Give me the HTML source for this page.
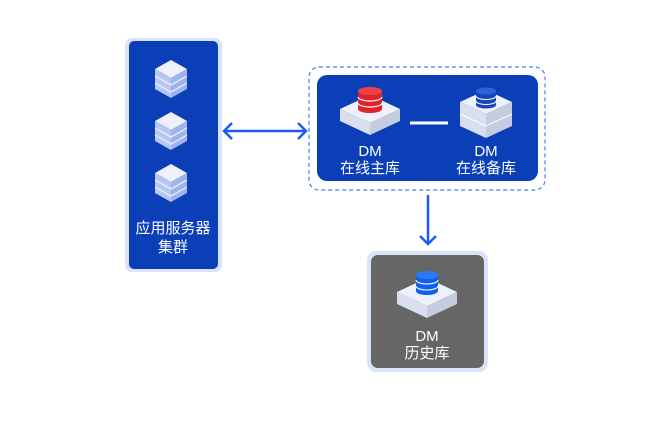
<!DOCTYPE html>
<html><head><meta charset="utf-8"><style>
body{margin:0;background:#fff;width:667px;height:436px;overflow:hidden}
text{font-family:"Liberation Sans","Noto Sans CJK SC",sans-serif;fill:#fff;font-size:15px;text-anchor:middle}
</style></head><body>
<svg width="667" height="436" viewBox="0 0 667 436">
<defs>
<g id="cube">
<polygon points="0,-19 16,-10 0,-1 -16,-10" fill="#eef1fa"/>
<polygon points="-16,-10 0,-1 0,19 -16,10" fill="#b7c6f2"/>
<polygon points="16,-10 0,-1 0,19 16,10" fill="#9fb3ee"/>
<polyline points="-16,-3 0,6 16,-3" fill="none" stroke="#eef1fa" stroke-width="1.2"/>
<polyline points="-16,4 0,13 16,4" fill="none" stroke="#eef1fa" stroke-width="1.2"/>
</g>
<g id="plat">
<polygon points="0,-18 30,-4 0,10 -30,-4" fill="#eef1fa"/>
<polygon points="-30,-4 0,10 0,22 -30,8" fill="#d9dfef"/>
<polygon points="30,-4 0,10 0,22 30,8" fill="#c4cce0"/>
</g>
</defs>
<rect x="125" y="38" width="97" height="234" rx="7" fill="#dbe3fb"/>
<rect x="129" y="41" width="89" height="228" rx="5" fill="#0a3fb8"/>
<use href="#cube" x="171" y="79"/>
<use href="#cube" x="171" y="131"/>
<use href="#cube" x="171" y="183"/>
<text x="173" y="233">应用服务器</text>
<text x="173" y="252">集群</text>
<line x1="224" y1="131" x2="306" y2="131" stroke="#1a5cf5" stroke-width="2.5"/>
<polyline points="232,123 224,131 232,139" fill="none" stroke="#1a5cf5" stroke-width="2.5"/>
<polyline points="298,123 306,131 298,139" fill="none" stroke="#1a5cf5" stroke-width="2.5"/>
<rect x="309" y="67" width="236" height="123" rx="10" fill="#fff" stroke="#3f86f2" stroke-width="1.2" stroke-dasharray="4,3"/>
<rect x="317" y="75" width="221" height="106" rx="10" fill="#0a3fb8"/>
<use href="#plat" x="370" y="113"/>
<g transform="translate(370,97)">
<rect x="-12" y="-6" width="24" height="18" fill="#e0222a"/>
<ellipse cx="0" cy="12" rx="12" ry="4" fill="#e0222a"/>
<ellipse cx="0" cy="-6" rx="12" ry="4" fill="#f04048"/>
<path d="M-12,0 a12,4 0 0,0 24,0 M-12,6 a12,4 0 0,0 24,0" fill="none" stroke="#fff" stroke-width="1.2"/>
</g>
<line x1="410" y1="123" x2="448" y2="123" stroke="#fff" stroke-width="3"/>
<g transform="translate(486,110)">
<polygon points="0,-20 26,-8 0,4 -26,-8" fill="#eef1fa"/>
<polygon points="-26,-8 0,4 0,28 -26,16" fill="#d9dfef"/>
<polygon points="26,-8 0,4 0,28 26,16" fill="#c4cce0"/>
<polyline points="-26,4 0,16 26,4" fill="none" stroke="#fff" stroke-width="1"/>
</g>
<g transform="translate(486,97)">
<rect x="-10" y="-6" width="20" height="14" fill="#1846b8"/>
<ellipse cx="0" cy="8" rx="10" ry="3.5" fill="#1846b8"/>
<ellipse cx="0" cy="-6" rx="10" ry="3.5" fill="#2d63d8"/>
<path d="M-10,-1 a10,3.5 0 0,0 20,0 M-10,4 a10,3.5 0 0,0 20,0" fill="none" stroke="#fff" stroke-width="1.1"/>
</g>
<text x="370" y="156">DM</text>
<text x="370" y="173">在线主库</text>
<text x="486" y="156">DM</text>
<text x="486" y="173">在线备库</text>
<line x1="428" y1="195" x2="428" y2="244" stroke="#1a5cf5" stroke-width="2.5"/>
<polyline points="420,236 428,244 436,236" fill="none" stroke="#1a5cf5" stroke-width="2.5"/>
<rect x="367" y="251" width="121" height="121" rx="9" fill="#dbe3fb"/>
<rect x="371" y="255" width="113" height="113" rx="7" fill="#666"/>
<use href="#plat" x="427" y="296"/>
<g transform="translate(427,281)">
<rect x="-11" y="-6" width="22" height="16" fill="#1060f0"/>
<ellipse cx="0" cy="10" rx="11" ry="4" fill="#1060f0"/>
<ellipse cx="0" cy="-6" rx="11" ry="4" fill="#2a7af8"/>
<path d="M-11,-1 a11,4 0 0,0 22,0 M-11,5 a11,4 0 0,0 22,0" fill="none" stroke="#fff" stroke-width="1.1"/>
</g>
<text x="427" y="341">DM</text>
<text x="427" y="358">历史库</text>
</svg>
</body></html>
